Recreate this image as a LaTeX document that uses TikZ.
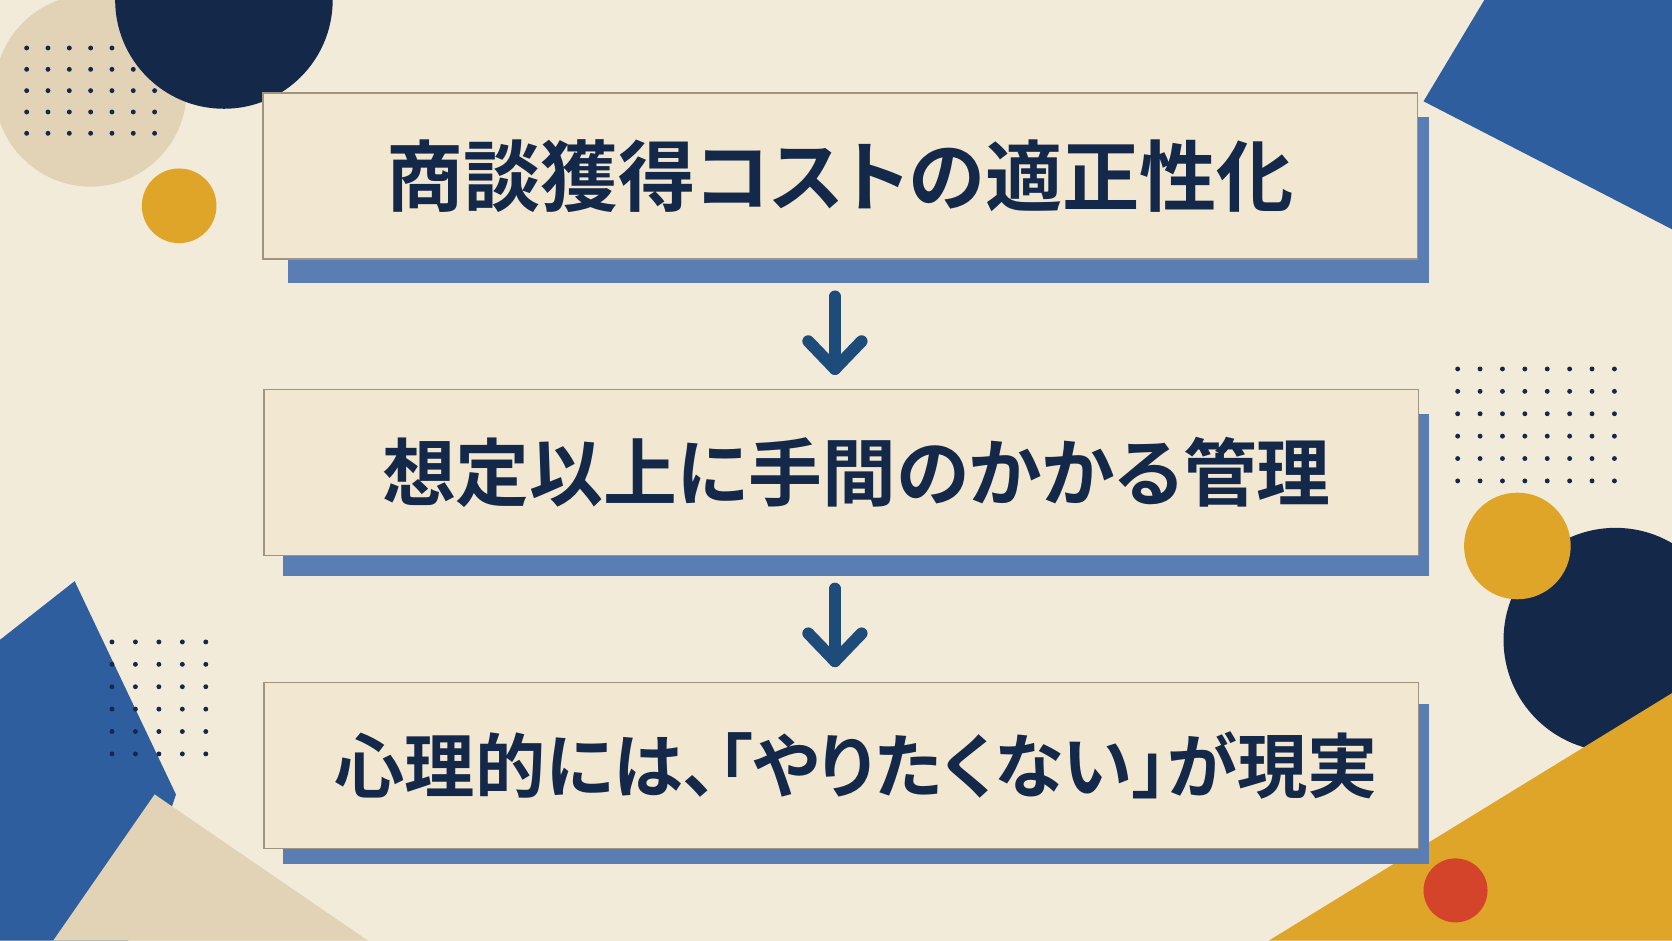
\documentclass[tikz,border=0pt]{standalone}
\usepackage{fontspec}
\newfontfamily\cjk[RawFeature=+palt]{Noto Sans CJK JP Bold}
\usetikzlibrary{positioning}
\definecolor{cream}{HTML}{F3EBDA}
\definecolor{paper}{HTML}{F2E8D2}
\definecolor{beige}{HTML}{E3D3B6}
\definecolor{navy}{HTML}{14284A}
\definecolor{midblue}{HTML}{2F5E9F}
\definecolor{shadowblue}{HTML}{5A7DB3}
\definecolor{gold}{HTML}{DFA528}
\definecolor{redc}{HTML}{D4442A}
\definecolor{arrowblue}{HTML}{1D4C7B}
\tikzstyle{card}=[draw=beige!70!black, line width=0.4pt, fill=paper, inner sep=0,
		minimum width=11.55cm, minimum height=1.66cm, font=\cjk\fontsize{22}{26}\selectfont, text=navy]
\tikzstyle{shade}=[fill=shadowblue]
\tikzstyle{dot}=[fill=navy]
\tikzstyle{flowline}=[draw=arrowblue, line width=3.4pt, line cap=round, line join=round]

\begin{document}
\begin{tikzpicture}[x=0.010663cm, y=-0.010663cm]
	\fill[cream] (0,0) rectangle (1568,882);
	\useasboundingbox (0,0) rectangle (1568,882);
	% corner shapes
	\begin{scope}
		\clip (0,0) rectangle (1568,882);
		\fill[beige] (85,85) circle (90);
		\fill[navy] (210,0) circle (102);
		\fill[gold] (168,193) circle (35);
		\fill[midblue] (1335,95) -- (1392,0) -- (1568,0) -- (1568,215) -- cycle;
		\fill[navy] (1515,600) circle (105);
		\fill[gold] (1423,512) circle (50);
		\fill[gold] (1190,882) -- (1568,650) -- (1568,882) -- cycle;
		\fill[redc] (1365,835) circle (30);
		\fill[midblue] (0,600) -- (70,545) -- (165,745) -- (120,882) -- (0,882) -- cycle;
		\fill[beige] (50,882) -- (145,745) -- (345,882) -- cycle;
		% dot grids
		\foreach \i in {0,...,6} \foreach \j in {0,...,4}
			\fill[dot] (25+20*\i,45+20*\j) circle (2.3);
		\foreach \i in {0,...,7} \foreach \j in {0,...,5}
			\fill[dot] (1367+21*\i,346+21*\j) circle (2.3);
		\foreach \i in {0,...,4} \foreach \j in {0,...,5}
			\fill[dot] (105+22*\i,602+21*\j) circle (2.3);
	\end{scope}
	% cards
	\fill[shade] (270,110) rectangle (1340,265);
	\node[card] (cost) at (788,165) {商談獲得コストの適正性化};
	\fill[shade] (265,388) rectangle (1340,540);
	\node[card, font=\cjk\fontsize{21}{25}\selectfont] (effort) at (789,443) {\hspace{0.3cm}想定以上に手間のかかる管理};
	\fill[shade] (265,660) rectangle (1340,810);
	\node[card, font=\cjk\fontsize{20}{24}\selectfont] (mind) at (789,718) {\hspace{0.3cm}心理的には、「やりたくない」が現実};
	% arrows
	\coordinate (a1) at (783,278);
	\coordinate (b1) at (783,346);
	\coordinate (a2) at (783,552);
	\coordinate (b2) at (783,620);
	\draw[flowline] (a1) -- (b1);
	\draw[flowline] (758,320) -- (b1) -- (808,320);
	\draw[flowline] (a2) -- (b2);
	\draw[flowline] (758,594) -- (b2) -- (808,594);
\end{tikzpicture}
\end{document}
